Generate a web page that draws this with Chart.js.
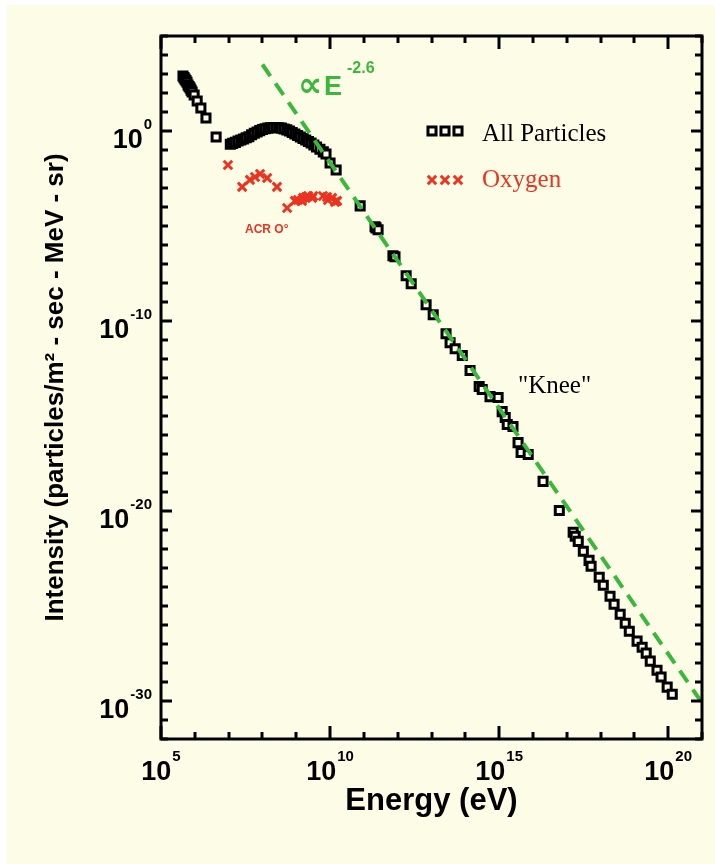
<!DOCTYPE html>
<html>
<head>
<meta charset="utf-8">
<script src="https://cdn.jsdelivr.net/npm/chart.js@4.4.0/dist/chart.umd.min.js"></script>
<style>
  html, body { margin: 0; padding: 0; background: #ffffff; }
  #chartCanvas { display: block; }
</style>
</head>
<body>
<canvas id="chartCanvas" width="715" height="864"></canvas>
<script>
// values, as log10(energy / eV) and log10(intensity)
const allLogE = [
  5.65, 5.68, 5.71, 5.74, 5.77, 5.80, 5.83, 5.86, 5.89, 5.92, 5.98, 6.07, 6.18, 6.33, 6.63,
  7.05, 7.12, 7.20, 7.28, 7.36, 7.44, 7.52, 7.60, 7.68, 7.76, 7.84, 7.92, 8.00, 8.08, 8.16,
  8.24, 8.32, 8.40, 8.48, 8.56, 8.64, 8.72, 8.80, 8.88, 8.96, 9.04, 9.12, 9.20, 9.28, 9.36,
  9.44, 9.52, 9.60, 9.70, 9.80, 9.88, 10.00, 10.18,
  10.89, 11.33, 11.36, 11.42, 11.86, 11.92, 12.25, 12.40, 12.84, 13.05, 13.43, 13.55, 13.70,
  13.91, 14.14, 14.41, 14.50, 14.73, 14.97, 15.09, 15.18, 15.24, 15.41, 15.56, 15.65, 15.86,
  16.30, 16.78, 17.19, 17.25, 17.34, 17.49, 17.66, 17.72, 17.96, 18.08, 18.28, 18.40, 18.58,
  18.73, 18.85, 19.08, 19.23, 19.35, 19.47, 19.67, 19.79, 19.97, 20.12
];
const allLogI = [
  2.89, 2.81, 2.73, 2.65, 2.57, 2.42, 2.34, 2.26, 2.15, 2.05, 1.89, 1.58, 1.21, 0.68, -0.32,
  -0.70, -0.65, -0.60, -0.53, -0.47, -0.42, -0.36, -0.30, -0.20, -0.12, -0.05, 0.02, 0.08, 0.12, 0.15,
  0.17, 0.18, 0.18, 0.17, 0.15, 0.11, 0.06, 0.00, -0.08, -0.16, -0.24, -0.32, -0.39, -0.47, -0.55,
  -0.63, -0.74, -0.84, -0.96, -1.10, -1.21, -1.68, -2.05,
  -3.94, -5.04, -5.10, -5.20, -6.57, -6.62, -7.62, -8.04, -9.14, -9.67, -10.67, -11.14, -11.46,
  -11.82, -12.61, -13.45, -13.61, -13.98, -14.03, -14.77, -15.08, -15.45, -15.55, -16.40, -16.92, -17.03,
  -18.44, -19.97, -21.12, -21.33, -21.60, -22.12, -22.60, -22.91, -23.49, -23.91, -24.49, -24.91, -25.43,
  -25.91, -26.33, -26.85, -27.17, -27.48, -27.90, -28.38, -28.74, -29.27, -29.64
];

const oxyLogE = [6.98, 7.40, 7.63, 7.78, 7.93, 8.14, 8.43, 8.73, 8.96, 9.05, 9.17, 9.20, 9.29, 9.35,
  9.47, 9.50, 9.79, 9.91, 9.94, 10.06, 10.15, 10.21];
const oxyLogI = [-1.79, -2.94, -2.57, -2.42, -2.26, -2.47, -2.94, -4.05, -3.68, -3.63, -3.68, -3.52, -3.47, -3.42,
  -3.52, -3.42, -3.42, -3.47, -3.63, -3.52, -3.73, -3.68];

// E^-2.6 guide line end points
const fitLogE = [8.0, 21.0];
const fitLogI = [3.5, -30.1];

const xMajorExp = [5, 10, 15, 20];
const yMajorExp = [0, -10, -20, -30];
const xRangeExp = [5, 21];
const yRangeExp = [-32, 5];

const CREAM = '#fdfde7';
const RED = '#ec3320';
const GREEN = '#3bb83b';
const SANS = '"Liberation Sans", Arial, Helvetica, sans-serif';
const SERIF = '"Liberation Serif", "Times New Roman", serif';

function toPoints(le, li) {
  return le.map((e, i) => ({ x: Math.pow(10, e), y: Math.pow(10, li[i]) }));
}

function drawPower(ctx, exp, x, y, align) {
  const s = String(exp);
  ctx.font = 'bold 27px ' + SANS;
  const w1 = ctx.measureText('10').width;
  ctx.font = 'bold 15px ' + SANS;
  const w2 = ctx.measureText(s).width;
  let left = align === 'right' ? x - w1 - w2 - 1 : x - (w1 + w2 + 1) / 2;
  ctx.textAlign = 'left';
  ctx.textBaseline = 'alphabetic';
  ctx.font = 'bold 27px ' + SANS;
  ctx.fillText('10', left, y);
  ctx.font = 'bold 15px ' + SANS;
  ctx.fillText(s, left + w1 + 1, y - 19);
}

const background = {
  id: 'background',
  beforeDraw(chart) {
    const ctx = chart.ctx;
    ctx.save();
    ctx.fillStyle = '#ffffff';
    ctx.fillRect(0, 0, chart.width, chart.height);
    ctx.fillStyle = CREAM;
    ctx.fillRect(7, 5, chart.width - 7, chart.height - 5);
    ctx.restore();
  }
};

const frameAndText = {
  id: 'frameAndText',
  afterDatasetsDraw(chart) {
    const { ctx, chartArea: a, scales: { x, y } } = chart;
    ctx.save();
    ctx.strokeStyle = '#000';
    ctx.lineWidth = 3;
    ctx.lineCap = 'butt';

    // ticks on all four sides, one per decade
    ctx.beginPath();
    for (let e = xRangeExp[0]; e <= xRangeExp[1]; e++) {
      const px = Math.round(x.getPixelForValue(Math.pow(10, e)));
      const len = xMajorExp.includes(e) ? 13 : 7;
      ctx.moveTo(px, a.bottom); ctx.lineTo(px, a.bottom - len);
      ctx.moveTo(px, a.top); ctx.lineTo(px, a.top + len);
    }
    for (let e = yRangeExp[0]; e <= yRangeExp[1]; e++) {
      const py = Math.round(y.getPixelForValue(Math.pow(10, e)));
      const len = yMajorExp.includes(e) ? 11 : 7;
      ctx.moveTo(a.left, py); ctx.lineTo(a.left + len, py);
      ctx.moveTo(a.right, py); ctx.lineTo(a.right - len, py);
    }
    ctx.stroke();
    ctx.strokeRect(a.left, a.top, a.right - a.left, a.bottom - a.top);

    // tick labels
    ctx.fillStyle = '#000';
    xMajorExp.forEach(e => {
      drawPower(ctx, e, x.getPixelForValue(Math.pow(10, e)), a.bottom + 41, 'center');
    });
    yMajorExp.forEach(e => {
      drawPower(ctx, e, 152, y.getPixelForValue(Math.pow(10, e)) + 17, 'right');
    });

    // axis titles
    ctx.textAlign = 'center';
    ctx.textBaseline = 'middle';
    ctx.font = 'bold 31px ' + SANS;
    ctx.fillText('Energy (eV)', (a.left + a.right) / 2, 801);
    ctx.save();
    ctx.translate(56, (a.top + a.bottom) / 2);
    ctx.rotate(-Math.PI / 2);
    ctx.font = 'bold 26px ' + SANS;
    ctx.fillText('Intensity (particles/m\u00B2 - sec - MeV - sr)', 0, 0);
    ctx.restore();

    // legend
    const h = Chart.helpers;
    ctx.fillStyle = CREAM;
    ctx.strokeStyle = '#000';
    ctx.lineWidth = 3;
    [432, 445, 458].forEach(px => h.drawPoint(ctx, { pointStyle: 'rect', radius: 5.7, borderWidth: 3, rotation: 0 }, px, 131));
    ctx.strokeStyle = RED;
    [432, 445, 458].forEach(px => h.drawPoint(ctx, { pointStyle: 'crossRot', radius: 6, borderWidth: 3, rotation: 0 }, px, 180));

    ctx.textAlign = 'left';
    ctx.textBaseline = 'alphabetic';
    ctx.font = '25px ' + SERIF;
    ctx.fillStyle = '#000';
    ctx.fillText('All Particles', 482, 141);
    ctx.fillStyle = RED;
    ctx.fillText('Oxygen', 482, 187);

    ctx.fillStyle = '#000';
    ctx.fillText('"Knee"', 518, 393);

    // annotations
    ctx.fillStyle = RED;
    ctx.font = 'bold 12px ' + SANS;
    ctx.fillText('ACR O\u00B0', 245, 233);

    ctx.fillStyle = GREEN;
    ctx.font = 'bold 34px "DejaVu Sans", ' + SANS;
    ctx.fillText('\u221D', 298, 96);
    ctx.font = 'bold 27px ' + SANS;
    ctx.fillText('E', 324, 95);
    ctx.font = 'bold 16px ' + SANS;
    ctx.fillText('-2.6', 347, 73);

    ctx.restore();
  }
};

const chart = new Chart(document.getElementById('chartCanvas').getContext('2d'), {
  type: 'scatter',
  data: {
    datasets: [
      {
        label: 'E^-2.6',
        type: 'line',
        data: toPoints(fitLogE, fitLogI),
        borderColor: GREEN,
        borderWidth: 4,
        borderDash: [14, 9],
        pointRadius: 0,
        fill: false,
        showLine: true
      },
      {
        label: 'Oxygen',
        data: toPoints(oxyLogE, oxyLogI),
        pointStyle: 'crossRot',
        pointRadius: 6,
        borderColor: RED,
        borderWidth: 3,
        backgroundColor: RED
      },
      {
        label: 'All Particles',
        data: toPoints(allLogE, allLogI),
        pointStyle: 'rect',
        pointRadius: 5.7,
        borderColor: '#000',
        borderWidth: 3,
        backgroundColor: CREAM
      }
    ]
  },
  options: {
    responsive: false,
    animation: false,
    events: [],
    layout: { padding: { left: 161, top: 36, right: 13, bottom: 125 } },
    plugins: { legend: { display: false }, tooltip: { enabled: false } },
    scales: {
      x: { type: 'logarithmic', display: false, min: Math.pow(10, xRangeExp[0]), max: Math.pow(10, xRangeExp[1]) },
      y: { type: 'logarithmic', display: false, min: Math.pow(10, yRangeExp[0]), max: Math.pow(10, yRangeExp[1]) }
    }
  },
  plugins: [background, frameAndText]
});
</script>
</body>
</html>
